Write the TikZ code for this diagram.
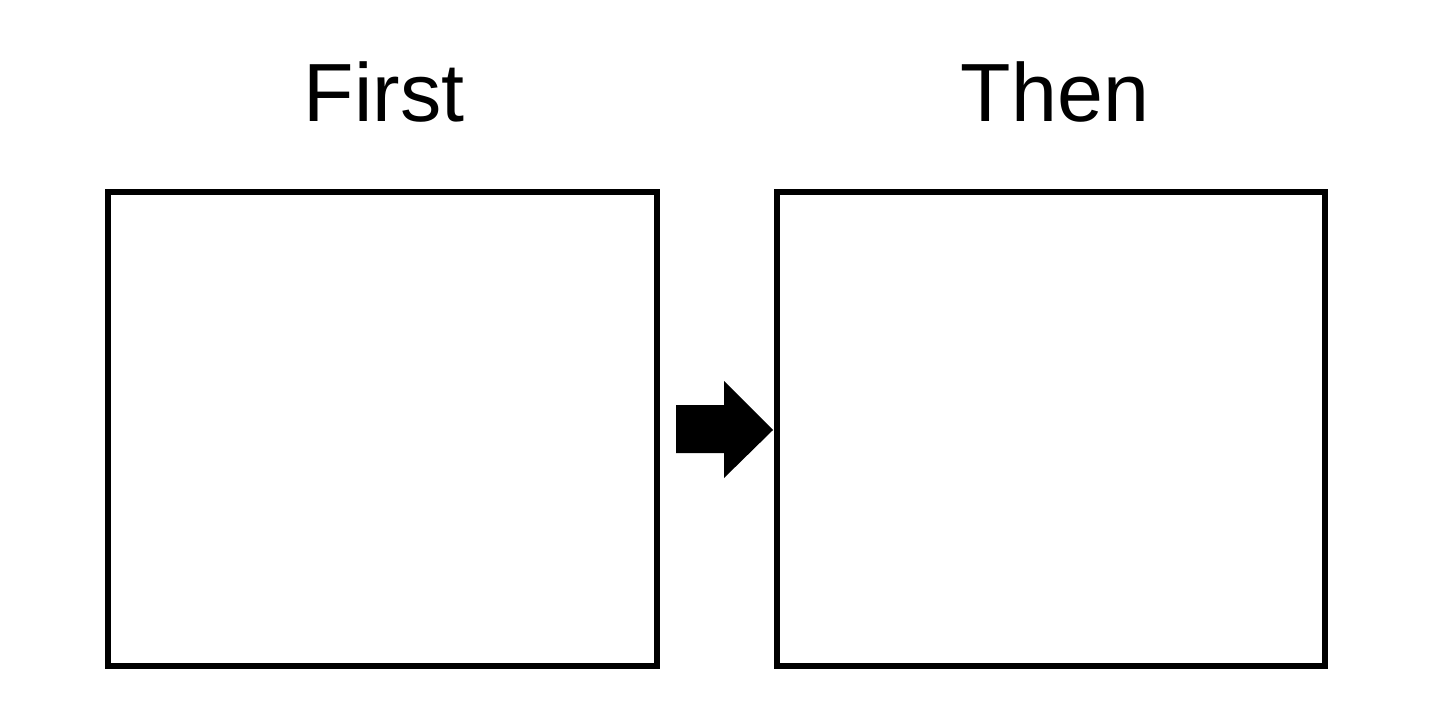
\documentclass[tikz,border=0pt]{standalone}
\usepackage{fontspec}
\setmainfont{Liberation Sans}
\usepackage{tikz}
\usetikzlibrary{positioning}

\begin{document}
\begin{tikzpicture}[x=0.02cm,y=-0.02cm,
    panel/.style={draw,line width=3.4pt,minimum width=10.98cm,minimum height=9.48cm,inner sep=0pt},
    heading/.style={font=\fontsize{47}{50}\selectfont}]
        \useasboundingbox (0,0) rectangle (1435,719);    % page size
        \node[panel] (first) at (382.5,429) {};
        \node[panel] (then) at (1051,429) {};
        \node[heading] (firstlabel) at (384,92) {First};
        \node[heading] (thenlabel) at (1055,92) {Then};

        % block arrow between the panels
        \fill (676,405) -- (724,405) -- (724,381) -- (773,430) -- (724,478) -- (724,453) -- (676,453) -- cycle;
    \end{tikzpicture}
\end{document}
